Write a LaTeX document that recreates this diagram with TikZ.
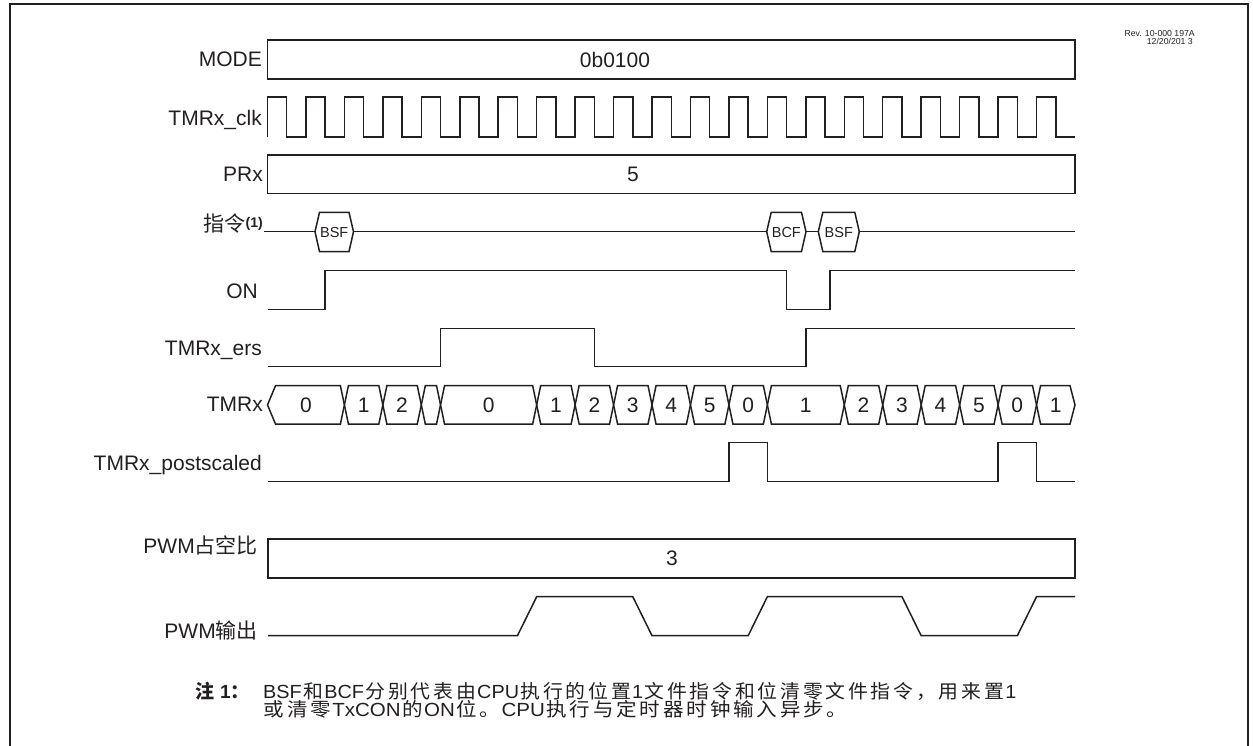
\documentclass[tikz,border=0pt]{standalone}
\usepackage{fontspec}
\setmainfont{Liberation Sans}
\newfontfamily\cjk{Noto Sans CJK SC}
\newfontfamily\cjknote[LetterSpace=14]{Noto Sans CJK SC}
\definecolor{ink}{RGB}{35,31,32}
\def\xo{267.5}
\def\hx{19.226}
\tikzset{
  sig/.style={draw=ink, line width=1.5pt, line join=miter},
  lbl/.style={inner sep=0pt, anchor=base east, text=ink, font=\fontsize{21}{21}\selectfont},
  val/.style={inner sep=0pt, text=ink, font=\fontsize{21}{21}\selectfont},
  hextext/.style={inner sep=0pt, text=ink, font=\fontsize{14.5}{14.5}\selectfont},
  notetext/.style={inner sep=0pt, anchor=base west, text=ink, font=\fontsize{19}{19}\selectfont},
  revtext/.style={inner sep=0pt, anchor=base east, text=ink, font=\fontsize{8.7}{8.7}\selectfont},
}
\newcommand\busseg[6]{%
  \draw[sig] ({\xo+#1*\hx},404.9) -- ({\xo+#1*\hx+#3},385.7) -- ({\xo+#2*\hx-#4},385.7)
    -- ({\xo+#2*\hx},404.9) -- ({\xo+#2*\hx-#4},424) -- ({\xo+#1*\hx+#3},424) -- cycle;
  \node[val] (#6) at ({\xo+(#1+#2)/2*\hx},404.9) {#5};}
\newcommand\instrhex[4]{%
  \draw[sig, fill=white] (#1,231.7) -- ({#1+4.5},212.3) -- ({#2-4.5},212.3) -- (#2,231.7)
    -- ({#2-4.5},251.5) -- ({#1+4.5},251.5) -- cycle;
  \node[hextext] (#4) at ({(#1+#2)/2},232.5) {#3};}
\newcommand\nz[1]{\hspace{1.3pt}{\fontsize{19}{19}\selectfont\cjknote #1}\hspace{1.3pt}}
\begin{document}
\begin{tikzpicture}[x=1pt, y=-1pt]
\useasboundingbox (0,0) rectangle (1253,745);
% frame
\draw[ink, line width=2pt] (10,746) -- (10,3.7) -- (1248,3.7) -- (1248,746);
% revision
\node[revtext] (rev1) at (1195,36) {Rev. 10-000 197A};
\node[revtext] (rev2) at (1193,44.3) {12/20/201 3};
% labels
\node[lbl] (lmode) at (262,66.5) {MODE};
\node[lbl] (lclk) at (262,125) {TMRx\_clk};
\node[lbl] (lprx) at (263,181.5) {PRx};
\node[lbl] (linstr) at (263,231) {{\cjk 指令}\raisebox{4pt}{\fontsize{14}{14}\selectfont\bfseries(1)}};
\node[lbl] (lon) at (258,298) {ON};
\node[lbl] (lers) at (262,355) {TMRx\_ers};
\node[lbl] (ltmr) at (263,411.5) {TMRx};
\node[lbl] (lpost) at (262,470.5) {TMRx\_postscaled};
\node[lbl] (lduty) at (258,553) {PWM{\cjk 占空比}};
\node[lbl] (lpwm) at (258,638) {PWM{\cjk 输出}};
% MODE
\draw[sig] (\xo,40) rectangle (1075,79);
\node[val] (vmode) at (615,59.5) {0b0100};
% clock
\draw[sig] (\xo,137) foreach \k in {0,...,20} {
  -- ({\xo+2*\k*\hx},97) -- ({\xo+(2*\k+1)*\hx},97) -- ({\xo+(2*\k+1)*\hx},137) -- ({\xo+(2*\k+2)*\hx},137) };
% PRx
\draw[sig] (\xo,155) rectangle (1075,193.5);
\node[val] (vprx) at (633,174) {5};
% instructions
\draw[sig] (264,231.7) -- (1075,231.7);
\instrhex{315}{353.5}{BSF}{bsf1}
\instrhex{766.7}{806}{BCF}{bcf}
\instrhex{818.3}{859.3}{BSF}{bsf2}
% ON
\draw[sig] (\xo,309.3) -- ({\xo+3*\hx},309.3) -- ({\xo+3*\hx},270.7) -- ({\xo+27*\hx},270.7)
  -- ({\xo+27*\hx},309.3) -- (830,309.3) -- (830,270.7) -- (1075,270.7);
% TMRx_ers
\draw[sig] (\xo,366.7) -- ({\xo+9*\hx},366.7) -- ({\xo+9*\hx},328.3) -- ({\xo+17*\hx},328.3)
  -- ({\xo+17*\hx},366.7) -- ({\xo+28*\hx},366.7) -- ({\xo+28*\hx},328.3) -- (1075,328.3);
% TMRx bus
\busseg{0}{4}{8}{4}{0}{t0}
\busseg{4}{6}{4}{4}{1}{t1}
\busseg{6}{8}{4}{4}{2}{t2}
\busseg{8}{9}{4}{4}{}{t3}
\busseg{9}{14}{4}{4}{0}{t4}
\busseg{14}{16}{4}{4}{1}{t5}
\busseg{16}{18}{4}{4}{2}{t6}
\busseg{18}{20}{4}{4}{3}{t7}
\busseg{20}{22}{4}{4}{4}{t8}
\busseg{22}{24}{4}{4}{5}{t9}
\busseg{24}{26}{4}{4}{0}{t10}
\busseg{26}{30}{4}{4}{1}{t11}
\busseg{30}{32}{4}{4}{2}{t12}
\busseg{32}{34}{4}{4}{3}{t13}
\busseg{34}{36}{4}{4}{4}{t14}
\busseg{36}{38}{4}{4}{5}{t15}
\busseg{38}{40}{4}{4}{0}{t16}
\busseg{40}{42}{4}{5}{1}{t17}
% postscaled
\draw[sig] (\xo,481.7) -- ({\xo+24*\hx},481.7) -- ({\xo+24*\hx},442.7) -- ({\xo+26*\hx},442.7)
  -- ({\xo+26*\hx},481.7) -- ({\xo+38*\hx},481.7) -- ({\xo+38*\hx},442.7) -- ({\xo+40*\hx},442.7)
  -- ({\xo+40*\hx},481.7) -- (1075,481.7);
% PWM duty
\draw[sig] (268,539) rectangle (1075,578);
\node[val] (vduty) at (672,558.5) {3};
% PWM output
\draw[sig] (268,635.7) -- ({\xo+13*\hx},635.7) -- ({\xo+14*\hx},596.7) -- ({\xo+19*\hx},596.7)
  -- ({\xo+20*\hx},635.7) -- ({\xo+25*\hx},635.7) -- ({\xo+26*\hx},596.7) -- ({\xo+33*\hx},596.7)
  -- ({\xo+34*\hx},635.7) -- ({\xo+39*\hx},635.7) -- ({\xo+40*\hx},596.7) -- (1075,596.7);
% note
\node[notetext] (nhead) at (195,698.3) {{\fontsize{19}{19}\selectfont\cjk\bfseries 注}\hspace{6pt}\textbf{1}{\fontsize{19}{19}\selectfont\cjk\bfseries ：}};
\node[notetext, xscale=1.045] (nline1) at (263,698.3) {BSF\nz{和}BCF\nz{分别代表由}CPU\nz{执行的位置}1\nz{文件指令和位清零文件指令，用来置}1};
\node[notetext, xscale=1.08] (nline2) at (262,716.7) {\nz{或清零}TxCON\nz{的}ON\nz{位。}CPU\nz{执行与定时器时钟输入异步。}};
\end{tikzpicture}
\end{document}
